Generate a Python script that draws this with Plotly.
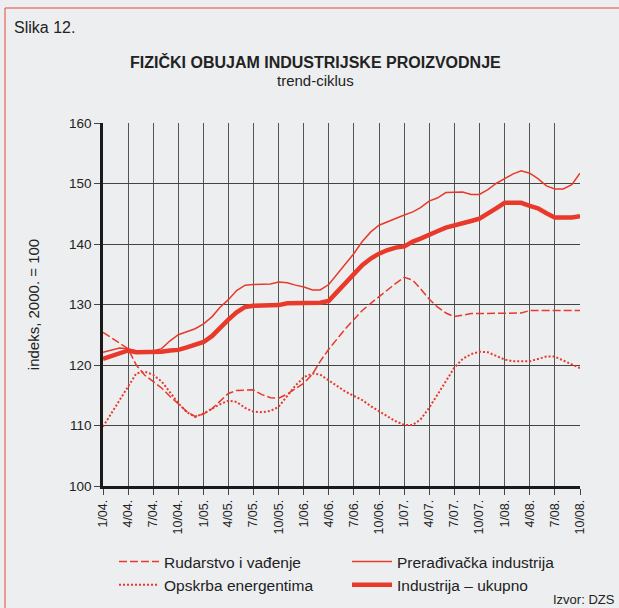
import pandas as pd
import plotly.graph_objects as go

# monthly trend-cycle, 1/2004 - 10/2008 (index 2000 = 100)
months = pd.date_range("2004-01-01", periods=58, freq="MS")

rudarstvo = [125.4, 124.5, 123.6, 122.7, 120.0, 118.3, 117.3, 116.2, 114.8, 113.6,
             112.3, 111.5, 111.9, 112.8, 114.0, 115.3, 115.8, 115.9, 115.9, 115.1,
             114.6, 114.5, 115.2, 116.1, 117.0, 118.5, 120.6, 122.6, 124.3, 126.0,
             127.5, 129.0, 130.2, 131.3, 132.4, 133.5, 134.5, 134.0, 132.6, 130.9,
             129.6, 128.6, 128.0, 128.3, 128.5, 128.5, 128.5, 128.5, 128.5, 128.5,
             128.6, 129.0, 129.0, 129.0, 129.0, 129.0, 129.0, 129.0]

preradjivacka = [122.1, 122.5, 122.8, 122.7, 122.3, 122.2, 122.3, 122.7, 124.0, 125.0,
                 125.5, 126.0, 126.8, 128.0, 129.5, 130.8, 132.3, 133.2, 133.3, 133.3,
                 133.4, 133.7, 133.6, 133.2, 132.9, 132.4, 132.4, 133.3, 135.0, 136.8,
                 138.4, 140.4, 142.0, 143.1, 143.7, 144.2, 144.8, 145.3, 146.0, 147.1,
                 147.6, 148.5, 148.6, 148.6, 148.2, 148.2, 149.0, 150.0, 150.8, 151.6,
                 152.1, 151.7, 150.8, 149.6, 149.1, 149.1, 149.8, 151.7]

opskrba = [109.8, 112.0, 114.2, 116.4, 118.6, 118.9, 118.4, 117.3, 115.5, 113.7,
           112.2, 111.4, 112.0, 112.8, 113.5, 114.1, 113.9, 112.9, 112.3, 112.2,
           112.4, 113.1, 114.8, 116.6, 118.0, 118.6, 118.4, 117.5, 116.5, 115.6,
           114.9, 114.2, 113.2, 112.3, 111.5, 110.7, 110.1, 110.1, 111.0, 112.9,
           115.0, 117.3, 119.5, 121.0, 121.8, 122.2, 122.1, 121.5, 120.9, 120.6,
           120.6, 120.6, 121.0, 121.4, 121.4, 120.7, 120.1, 119.5]

ukupno = [121.0, 121.5, 122.0, 122.4, 122.1, 122.1, 122.1, 122.2, 122.4, 122.5,
          122.9, 123.3, 123.8, 124.8, 126.2, 127.5, 128.7, 129.6, 129.8, 129.8,
          129.8, 129.9, 130.2, 130.2, 130.2, 130.2, 130.3, 130.6, 132.0, 133.4,
          134.8, 136.5, 137.6, 138.4, 139.0, 139.4, 139.6, 140.4, 140.9, 141.6,
          142.1, 142.7, 143.0, 143.4, 143.8, 144.2, 145.0, 145.9, 146.8, 146.8,
          146.8, 146.3, 145.9, 145.1, 144.4, 144.4, 144.4, 144.6]

tick_text = ["1/04.", "4/04.", "7/04.", "10/04.", "1/05.", "4/05.", "7/05.", "10/05.",
             "1/06.", "4/06.", "7/06.", "10/06.", "1/07.", "4/07.", "7/07.", "10/07.",
             "1/08.", "4/08.", "7/08.", "10/08."]
tick_vals = months[::3]

RED = "#e8392a"
BG = "#edeef0"
W, H = 619, 608
L, R, T, B = 103, 580, 123, 486  # plot area in pixels


def px2x(px):
    return (px - L) / (R - L)


def px2y(py):
    return (B - py) / (B - T)


fig = go.Figure()
fig.add_trace(go.Scatter(x=months, y=rudarstvo, mode="lines", name="Rudarstvo i vađenje",
                         line=dict(color=RED, width=1.5, dash="8px,3px")))
fig.add_trace(go.Scatter(x=months, y=preradjivacka, mode="lines", name="Prerađivačka industrija",
                         line=dict(color=RED, width=1.5)))
fig.add_trace(go.Scatter(x=months, y=opskrba, mode="lines", name="Opskrba energentima",
                         line=dict(color=RED, width=2, dash="2px,2px")))
fig.add_trace(go.Scatter(x=months, y=ukupno, mode="lines", name="Industrija – ukupno",
                         line=dict(color=RED, width=4.5)))

fig.update_layout(
    width=W, height=H,
    margin=dict(l=L, r=W - R, t=T, b=H - B, autoexpand=False),
    paper_bgcolor=BG, plot_bgcolor=BG,
    font=dict(family="Liberation Sans, Arial, sans-serif", color="#222"),
    showlegend=True,
    legend=dict(orientation="h", x=px2x(114), y=px2y(545), xanchor="left", yanchor="top",
                entrywidth=178, entrywidthmode="pixels", font=dict(size=15.5, color="#222"),
                bgcolor="rgba(0,0,0,0)", tracegroupgap=0, itemwidth=40),
)

fig.update_xaxes(
    range=[months[0], months[-1]], tickvals=tick_vals, ticktext=tick_text,
    tickangle=-90, tickfont=dict(size=12.5, color="#222"),
    showgrid=True, gridcolor="#555", gridwidth=1,
    ticks="outside", ticklen=6, tickcolor="#444",
    showline=True, linecolor="#1a1a1a", linewidth=2.5, zeroline=False,
)
fig.update_yaxes(
    range=[100, 160], dtick=10, tickfont=dict(size=13.5, color="#222"),
    showgrid=True, gridcolor="#444", gridwidth=1,
    ticks="outside", ticklen=6, tickcolor="#444",
    showline=True, linecolor="#1a1a1a", linewidth=2.5, zeroline=False,
    title=dict(text="indeks, 2000. = 100", font=dict(size=15, color="#222"), standoff=26),
)

# red frame on top and left
fig.add_shape(type="line", xref="paper", yref="paper", x0=px2x(5), x1=px2x(5),
              y0=px2y(608), y1=px2y(8), line=dict(color="#e8463c", width=1))
fig.add_shape(type="line", xref="paper", yref="paper", x0=px2x(5), x1=px2x(619),
              y0=px2y(8), y1=px2y(8), line=dict(color="#e8463c", width=1))

fig.add_annotation(text="Slika 12.", xref="paper", yref="paper", x=px2x(12), y=px2y(27),
                   xanchor="left", yanchor="middle", showarrow=False, font=dict(size=16, color="#222"))
fig.add_annotation(text="<b>FIZIČKI OBUJAM INDUSTRIJSKE PROIZVODNJE</b>", xref="paper", yref="paper",
                   x=px2x(315), y=px2y(62), xanchor="center", yanchor="middle", showarrow=False,
                   font=dict(size=16, color="#222"))
fig.add_annotation(text="trend-ciklus", xref="paper", yref="paper", x=px2x(315), y=px2y(80),
                   xanchor="center", yanchor="middle", showarrow=False, font=dict(size=15, color="#222"))
fig.add_annotation(text="Izvor: DZS", xref="paper", yref="paper", x=px2x(617), y=px2y(599),
                   xanchor="right", yanchor="middle", showarrow=False, font=dict(size=13, color="#222"))

# drop the default page margin so the figure sits at the top-left corner
fig.write_html("out.html", config={"displayModeBar": False},
               post_script="document.body.style.margin='0';")
